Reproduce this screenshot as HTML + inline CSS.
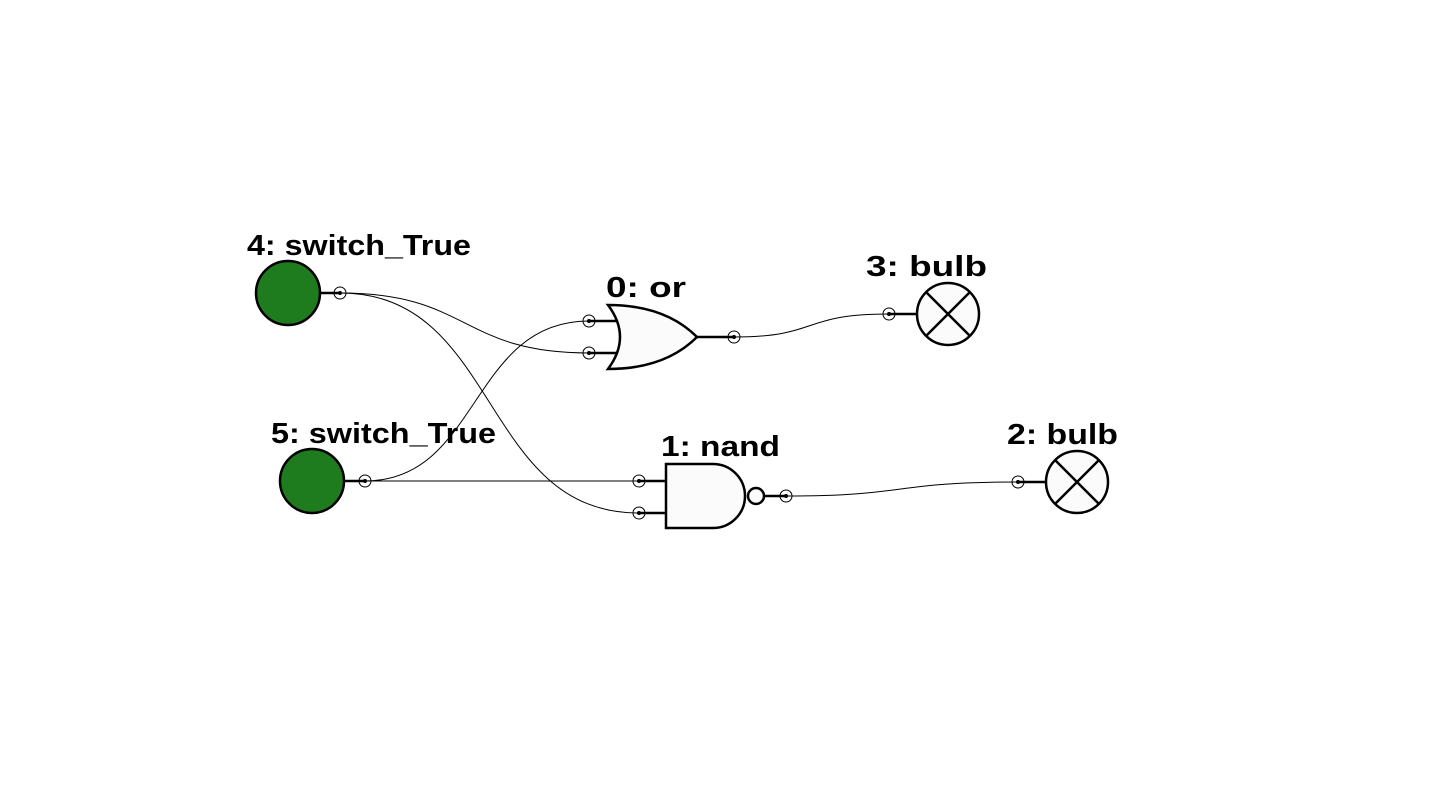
<!DOCTYPE html>
<html><head><meta charset="utf-8"><style>html,body{margin:0;padding:0;background:#fff}svg{display:block}</style></head>
<body>
<svg width="1440" height="810" viewBox="0 0 1440 810" xmlns="http://www.w3.org/2000/svg">
<rect width="1440" height="810" fill="#fff"/>
<g fill="none" stroke="#000" stroke-width="1">
<path d="M340,293 C470,293 460,353 589,353"/>
<path d="M340,293 C500,293 480,513 639,513"/>
<path d="M365,481 C480,481 470,321 589,321"/>
<path d="M365,481 L639,481"/>
<path d="M734,337 C820,337 800,314 889,314"/>
<path d="M786,496 C910,496 890,482 1018,482"/>
</g>
<g stroke="#000" stroke-width="2.5">
<line x1="320" y1="293" x2="340" y2="293"/>
<line x1="344" y1="481" x2="365" y2="481"/>
<line x1="589" y1="321" x2="616" y2="321"/>
<line x1="589" y1="353" x2="616" y2="353"/>
<line x1="697" y1="337" x2="734" y2="337"/>
<line x1="639" y1="481" x2="666" y2="481"/>
<line x1="639" y1="513" x2="666" y2="513"/>
<line x1="764" y1="496" x2="786" y2="496"/>
<line x1="889" y1="314" x2="917" y2="314"/>
<line x1="1018" y1="482" x2="1046" y2="482"/>
</g>
<g stroke="#000" stroke-width="2.5">
<circle cx="288" cy="293" r="32" fill="#1e7b1e"/>
<circle cx="312" cy="481" r="32" fill="#1e7b1e"/>
<path d="M608,305 Q632,337 608,369 Q665,369 697,337 Q665,305 608,305 Z" fill="#fbfbfb"/>
<path d="M666,464 H713 A32,32 0 0 1 713,528 H666 Z" fill="#fbfbfb"/>
<circle cx="756" cy="496" r="8" fill="#fbfbfb"/>
<circle cx="948" cy="314" r="31" fill="#fbfbfb"/>
<path d="M926,292 L970,336 M970,292 L926,336" fill="none"/>
<circle cx="1077" cy="482" r="31" fill="#fbfbfb"/>
<path d="M1055,460 L1099,504 M1099,460 L1055,504" fill="none"/>
</g>
<g stroke="#000" stroke-width="1" fill="none">
<circle cx="340" cy="293" r="6"/><circle cx="365" cy="481" r="6"/>
<circle cx="589" cy="321" r="6"/><circle cx="589" cy="353" r="6"/>
<circle cx="734" cy="337" r="6"/><circle cx="639" cy="481" r="6"/>
<circle cx="639" cy="513" r="6"/><circle cx="786" cy="496" r="6"/>
<circle cx="889" cy="314" r="6"/><circle cx="1018" cy="482" r="6"/>
</g>
<g fill="#000">
<circle cx="340" cy="293" r="2"/><circle cx="365" cy="481" r="2"/>
<circle cx="589" cy="321" r="2"/><circle cx="589" cy="353" r="2"/>
<circle cx="734" cy="337" r="2"/><circle cx="639" cy="481" r="2"/>
<circle cx="639" cy="513" r="2"/><circle cx="786" cy="496" r="2"/>
<circle cx="889" cy="314" r="2"/><circle cx="1018" cy="482" r="2"/>
</g>
<g font-family="Liberation Sans, sans-serif" font-weight="bold" font-size="29" fill="#000">
<text x="247" y="255" textLength="224" lengthAdjust="spacingAndGlyphs">4:  switch_True</text>
<text x="271" y="443" textLength="225" lengthAdjust="spacingAndGlyphs">5:  switch_True</text>
<text x="606" y="297" textLength="80" lengthAdjust="spacingAndGlyphs">0:  or</text>
<text x="661" y="456" textLength="119" lengthAdjust="spacingAndGlyphs">1:  nand</text>
<text x="866" y="276" textLength="121" lengthAdjust="spacingAndGlyphs">3:  bulb</text>
<text x="1007" y="444" textLength="111" lengthAdjust="spacingAndGlyphs">2:  bulb</text>
</g>
</svg>
</body></html>
